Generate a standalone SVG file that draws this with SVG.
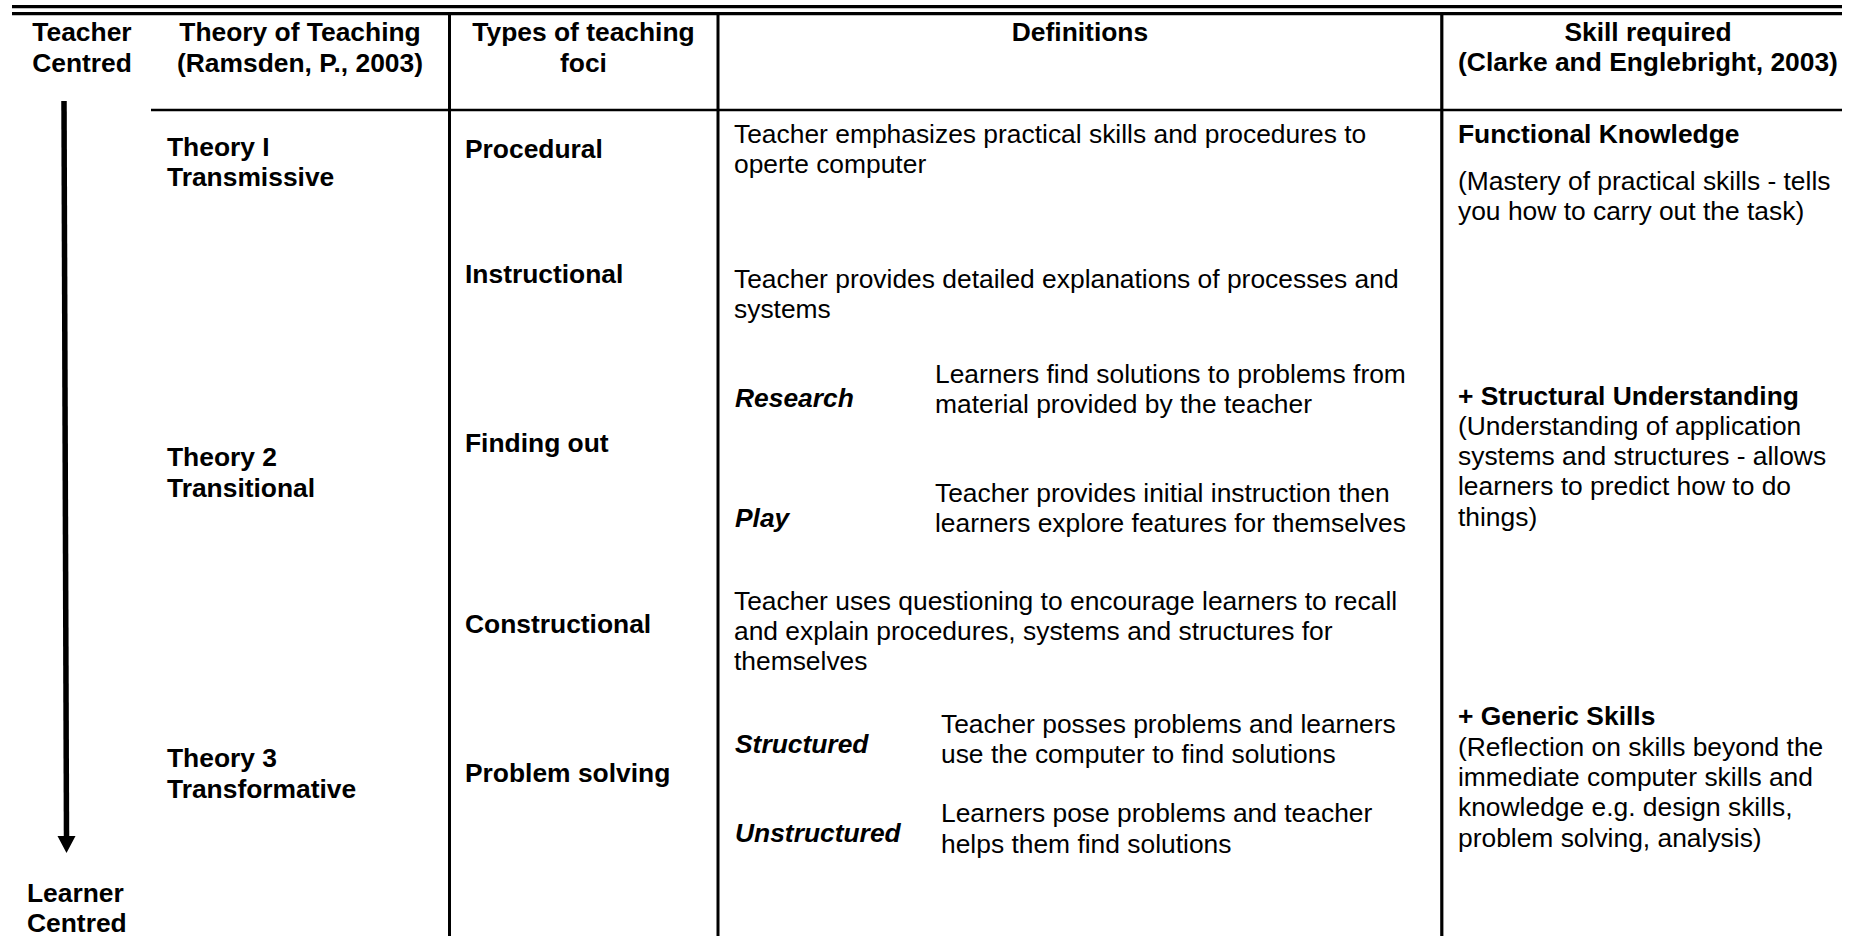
<svg xmlns="http://www.w3.org/2000/svg" width="1861" height="936" viewBox="0 0 1861 936">
<style>
text{font-family:"Liberation Sans",Arial,sans-serif;font-size:26.4px;fill:#000}
.b{font-weight:bold}
.bi{font-weight:bold;font-style:italic}
.c{text-anchor:middle}
.rule{stroke:#000;fill:none}
</style>
<rect width="1861" height="936" fill="#fff"/>
<g id="grid">
<line class="rule" x1="12" y1="6.6" x2="1842" y2="6.6" stroke-width="3.3"/>
<line class="rule" x1="12" y1="13.6" x2="1842" y2="13.6" stroke-width="3.3"/>
<line class="rule" x1="151" y1="110" x2="1842" y2="110" stroke-width="2.6"/>
<line class="rule" x1="449.5" y1="15" x2="449.5" y2="936" stroke-width="3"/>
<line class="rule" x1="718" y1="15" x2="718" y2="936" stroke-width="3"/>
<line class="rule" x1="1441.8" y1="15" x2="1441.8" y2="936" stroke-width="3.2"/>
</g>
<g id="connectors">
<line x1="64" y1="101" x2="66.5" y2="837" stroke="#000" stroke-width="5.5"/>
<path d="M57.5,836 L75.5,836 L66.5,853 Z" fill="#000"/>
</g>
<g id="header">
<text class="b c" x="82" y="41">Teacher</text>
<text class="b c" x="82" y="71.5">Centred</text>
<text class="b c" x="300" y="41">Theory of Teaching</text>
<text class="b c" x="300" y="71.5">(Ramsden, P., 2003)</text>
<text class="b c" x="583.5" y="41">Types of teaching</text>
<text class="b c" x="583.5" y="71.5">foci</text>
<text class="b c" x="1080" y="40.5">Definitions</text>
<text class="b c" x="1648" y="40.5">Skill required</text>
<text class="b c" x="1648" y="71">(Clarke and Englebright, 2003)</text>
</g>
<g id="theory1">
<text class="b" x="167" y="156">Theory I</text>
<text class="b" x="167" y="186">Transmissive</text>
</g>
<g id="procedural">
<text class="b" x="465" y="158">Procedural</text>
<text x="734" y="143">Teacher emphasizes practical skills and procedures to</text>
<text x="734" y="173">operte computer</text>
</g>
<g id="functional">
<text class="b" x="1458" y="143">Functional Knowledge</text>
<text x="1458" y="190">(Mastery of practical skills - tells</text>
<text x="1458" y="220">you how to carry out the task)</text>
</g>
<g id="instructional">
<text class="b" x="465" y="283">Instructional</text>
<text x="734" y="288">Teacher provides detailed explanations of processes and</text>
<text x="734" y="318">systems</text>
</g>
<g id="theory2">
<text class="b" x="167" y="466">Theory 2</text>
<text class="b" x="167" y="497">Transitional</text>
</g>
<g id="findingout">
<text class="b" x="465" y="452">Finding out</text>
<text class="bi" x="735" y="407">Research</text>
<text x="935" y="383">Learners find solutions to problems from</text>
<text x="935" y="413">material provided by the teacher</text>
<text class="bi" x="735" y="527">Play</text>
<text x="935" y="502">Teacher provides initial instruction then</text>
<text x="935" y="532">learners explore features for themselves</text>
</g>
<g id="structural">
<text class="b" x="1458" y="405">+ Structural Understanding</text>
<text x="1458" y="435">(Understanding of application</text>
<text x="1458" y="465">systems and structures - allows</text>
<text x="1458" y="495">learners to predict how to do</text>
<text x="1458" y="526">things)</text>
</g>
<g id="constructional">
<text class="b" x="465" y="633">Constructional</text>
<text x="734" y="610">Teacher uses questioning to encourage learners to recall</text>
<text x="734" y="640">and explain procedures, systems and structures for</text>
<text x="734" y="670">themselves</text>
</g>
<g id="theory3">
<text class="b" x="167" y="767">Theory 3</text>
<text class="b" x="167" y="798">Transformative</text>
</g>
<g id="problemsolving">
<text class="b" x="465" y="782">Problem solving</text>
<text class="bi" x="735" y="753">Structured</text>
<text x="941" y="733">Teacher posses problems and learners</text>
<text x="941" y="763">use the computer to find solutions</text>
<text class="bi" x="735" y="842">Unstructured</text>
<text x="941" y="822">Learners pose problems and teacher</text>
<text x="941" y="853">helps them find solutions</text>
</g>
<g id="generic">
<text class="b" x="1458" y="725">+ Generic Skills</text>
<text x="1458" y="755.5">(Reflection on skills beyond the</text>
<text x="1458" y="786">immediate computer skills and</text>
<text x="1458" y="816">knowledge e.g. design skills,</text>
<text x="1458" y="846.5">problem solving, analysis)</text>
</g>
<g id="learner">
<text class="b" x="27" y="902">Learner</text>
<text class="b" x="27" y="932">Centred</text>
</g>
</svg>
